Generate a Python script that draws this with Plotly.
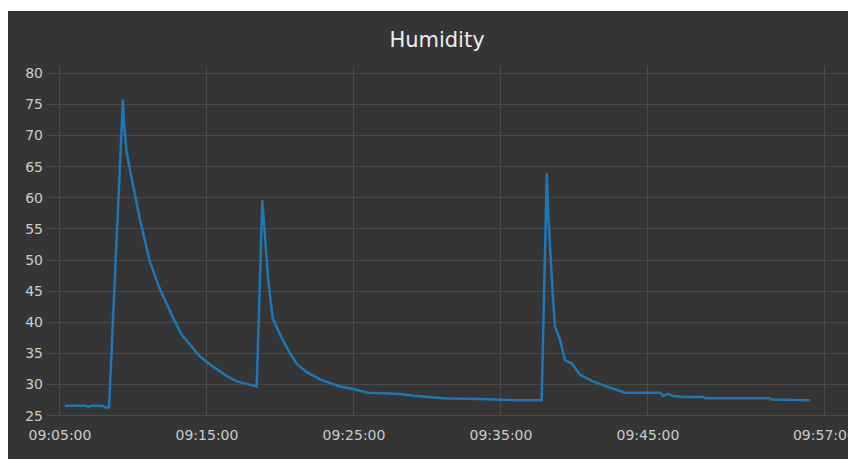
import plotly.graph_objects as go

times = [
    "09:05:20", "09:06:22", "09:06:46", "09:06:54", "09:07:06", "09:07:56", "09:08:04", "09:08:20",
    "09:09:17", "09:09:21", "09:09:32", "09:09:53", "09:10:26", "09:11:07", "09:11:48", "09:12:41",
    "09:13:17", "09:13:51", "09:14:31", "09:15:24", "09:16:20", "09:17:01", "09:17:42", "09:18:23",
    "09:18:46", "09:18:57", "09:19:10", "09:19:28", "09:20:02", "09:20:39", "09:21:07", "09:21:47",
    "09:22:48", "09:24:03", "09:24:56", "09:25:57", "09:28:08", "09:29:01", "09:31:03", "09:33:34",
    "09:35:57", "09:37:46", "09:38:07", "09:38:13", "09:38:20", "09:38:31", "09:38:40", "09:39:01",
    "09:39:21", "09:39:49", "09:40:22", "09:41:10", "09:42:11", "09:42:52", "09:43:26", "09:45:49",
    "09:46:02", "09:46:23", "09:46:37", "09:47:24", "09:48:46", "09:48:53", "09:53:18", "09:53:25",
    "09:56:01",
]
humidity = [
    26.6, 26.6, 26.6, 26.4, 26.6, 26.6, 26.3, 26.3,
    75.8, 72.0, 67.3, 63.0, 56.6, 49.7, 45.3, 40.8,
    38.0, 36.4, 34.5, 32.9, 31.4, 30.5, 30.1, 29.7,
    59.6, 53.2, 46.7, 40.7, 37.7, 35.0, 33.3, 32.0,
    30.7, 29.7, 29.3, 28.7, 28.5, 28.2, 27.8, 27.7,
    27.5, 27.5, 63.9, 57.0, 51.6, 44.7, 39.3, 37.2,
    33.9, 33.4, 31.6, 30.6, 29.7, 29.1, 28.7, 28.7,
    28.2, 28.5, 28.2, 28.0, 28.0, 27.8, 27.8, 27.6,
    27.5,
]
tick_times = ["09:05:00", "09:15:00", "09:25:00", "09:35:00", "09:45:00", "09:57:00"]
y_ticks = [25, 30, 35, 40, 45, 50, 55, 60, 65, 70, 75, 80]

day = "2024-01-01 "
x = [day + t for t in times]
tickvals = [day + t for t in tick_times]

fig = go.Figure()
fig.add_trace(go.Scatter(
    x=x, y=humidity, mode="lines",
    line=dict(color="#1f77b4", width=2.5),
    showlegend=False,
))

W, H = 848, 451
L, R, T, B = 39, 0, 58, 42
pw, ph = W - L - R, H - T - B

bg = "#353535"
grid = "#4a4a4a"
fig.add_shape(
    type="rect", xref="paper", yref="paper", layer="below",
    x0=-L / pw - 0.01, x1=1.01,
    y0=-(B + 5) / ph, y1=(H - B - 3) / ph,
    fillcolor=bg, line=dict(width=0),
)

fig.update_layout(
    width=W, height=H,
    margin=dict(l=L, r=R, t=T, b=B),
    paper_bgcolor="white",
    plot_bgcolor="rgba(0,0,0,0)",
    font=dict(family="DejaVu Sans, sans-serif", color="#cccccc", size=14),
    title=dict(text="Humidity", x=429 / W, xref="container", xanchor="center",
               y=1 - 32 / H, yref="container", yanchor="middle",
               font=dict(size=21, color="#eeeeee")),
    xaxis=dict(
        type="date",
        range=[day + "09:04:07", day + "09:59:09"],
        tickvals=tickvals, ticktext=tick_times,
        showgrid=True, gridcolor=grid, gridwidth=1,
        zeroline=False, showline=False, ticks="",
        ticklabelstandoff=8,
    ),
    yaxis=dict(
        range=[24.79, 81.17],
        tickvals=y_ticks,
        showgrid=True, gridcolor=grid, gridwidth=1,
        zeroline=False, showline=False, ticks="",
        ticklabelstandoff=3,
    ),
)

fig.write_html("out.html")
